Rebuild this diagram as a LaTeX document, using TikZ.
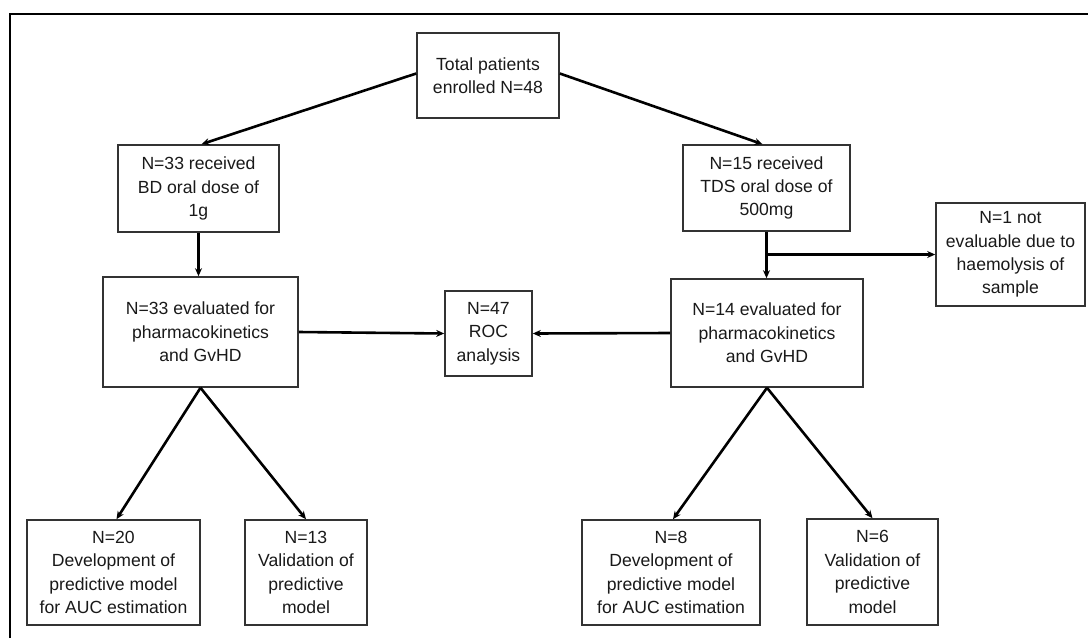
\documentclass[tikz,border=0pt]{standalone}
\usepackage{fontspec}
\setmainfont{Liberation Sans}
\usetikzlibrary{arrows.meta}
\definecolor{boxline}{rgb}{0.2, 0.2, 0.2}
\definecolor{boxtext}{rgb}{0.1, 0.1, 0.1}
\tikzset{box/.style={draw=boxline, line width=1.6pt, text=boxtext, align=center, inner sep=0pt,
        font=\fontsize{17.6}{23.4}\selectfont}}
\tikzset{arr/.style={line width=2.6pt, -{Stealth[length=8pt, width=7pt]}}}

\begin{document}
\begin{tikzpicture}[x=1pt, y=-1pt]
        \useasboundingbox (0,0) rectangle (1088,638);
        \draw[line width=2pt] (10,638) -- (10,14) -- (1088,14);

        \node[box, minimum width=142pt, minimum height=85pt] (total) at (488,75.5) {Total patients\\enrolled N=48};

        \node[box, minimum width=161pt, minimum height=87pt] (bd) at (198.5,188.5) {N=33 received\\BD oral dose of\\1g};
        \node[box, minimum width=167pt, minimum height=86pt] (tds) at (766.5,188) {N=15 received\\TDS oral dose of\\500mg};
        \node[box, minimum width=149pt, minimum height=103pt] (excl) at (1010.5,254.5) {N=1 not\\evaluable due to\\haemolysis of\\sample};

        \node[box, minimum width=195pt, minimum height=110pt] (bdeval) at (200.5,332) {N=33 evaluated for\\pharmacokinetics\\and GvHD};
        \node[box, minimum width=192pt, minimum height=108pt] (tdseval) at (767,333) {N=14 evaluated for\\pharmacokinetics\\and GvHD};
        \node[box, minimum width=87pt, minimum height=85pt] (roc) at (488.5,333.5) {N=47\\ROC\\analysis};

        \node[box, minimum width=173pt, minimum height=105pt] (dev1) at (113.5,572.5) {N=20\\Development of\\predictive model\\for AUC estimation};
        \node[box, minimum width=122pt, minimum height=105pt] (val1) at (306,572.5) {N=13\\Validation of\\predictive\\model};
        \node[box, minimum width=178pt, minimum height=105pt] (dev2) at (671,572.5) {N=8\\Development of\\predictive model\\for AUC estimation};
        \node[box, minimum width=131pt, minimum height=106pt] (val2) at (872.5,572) {N=6\\Validation of\\predictive\\model};

        \coordinate (split) at (tds.south |- excl.west);

        \draw[arr] ([yshift=2pt]total.west) -- ([xshift=3pt]bd.north);
        \draw[arr] ([yshift=2pt]total.east) -- ([xshift=-4pt]tds.north);
        \draw[arr] (bd.south) -- (bd.south |- bdeval.north);
        \draw[arr] (tds.south) -- (tds.south |- tdseval.north);
        \draw[arr] (split) -- (excl.west |- split);
        \draw[arr] (bdeval.east) -- (roc.west);
        \draw[arr] (tdseval.west) -- (roc.east);
        \draw[arr] (bdeval.south) -- ([xshift=3pt]dev1.north);
        \draw[arr] (bdeval.south) -- (val1.north);
        \draw[arr] (tdseval.south) -- ([xshift=2pt]dev2.north);
        \draw[arr] (tdseval.south) -- (val2.north);
    \end{tikzpicture}
\end{document}
